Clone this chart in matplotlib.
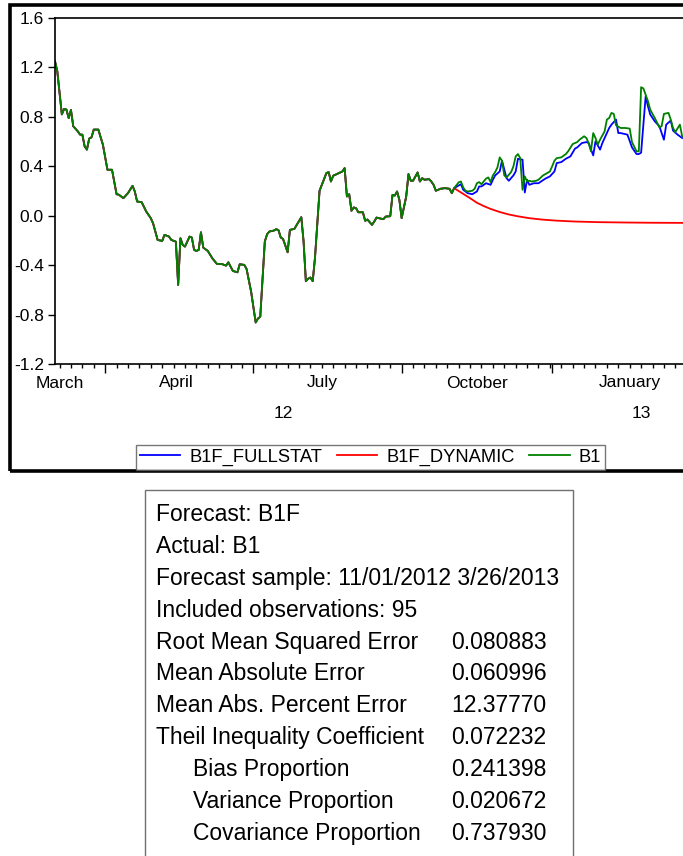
import numpy as np
import pandas as pd
import matplotlib
matplotlib.use('Agg')
import matplotlib.pyplot as plt
from matplotlib.patches import Rectangle
from matplotlib.lines import Line2D
import matplotlib.transforms as mtransforms

plt.rcParams['font.family'] = ['Liberation Sans', 'DejaVu Sans']
plt.rcParams['axes.unicode_minus'] = False

# ---------------- data ----------------
SAMPLE_START = '2012-03-01'
SAMPLE_END = '2013-03-26'
FORECAST_START = '2012-11-01'

# B1 (actual) : observation number (business days from SAMPLE_START) and value
b1_obs = [0, 1, 3, 4, 5, 6, 7, 8, 10, 11, 12, 13, 14, 15, 16, 17, 19, 21, 23, 25,
          27, 28, 30, 32, 34, 35, 36, 38, 40, 42, 43, 45, 47, 48, 50, 51, 53, 54, 55, 56,
          57, 59, 60, 61, 62, 63, 64, 65, 67, 69, 71, 73, 75, 76, 78, 80, 81, 83, 84, 86,
          88, 89, 90, 92, 93, 94, 96, 97, 98, 99, 100, 102, 103, 105, 106, 108, 109, 110, 111, 112,
          113, 114, 115, 116, 117, 119, 120, 121, 122, 123, 126, 127, 128, 129, 130, 131, 132, 133, 135, 136,
          137, 139, 140, 141, 142, 144, 145, 147, 148, 149, 150, 151, 152, 154, 155, 156, 157, 159, 160, 161,
          162, 164, 165, 166, 167, 169, 171, 173, 174, 175, 177, 178, 179, 180, 181, 183, 184, 185, 186, 187,
          189, 190, 191, 192, 193, 194, 195, 196, 197, 198, 200, 201, 202, 203, 204, 205, 206, 207, 208, 209,
          211, 212, 214, 215, 217, 218, 219, 220, 222, 224, 225, 227, 229, 230, 232, 233, 234, 235, 236, 237,
          238, 239, 241, 242, 243, 244, 245, 246, 248, 250, 252, 253, 255, 256, 257, 258, 260, 261, 262, 263,
          265, 266, 267, 269, 270, 271, 272, 274, 275]
b1_val = [1.25, 1.17, 0.82, 0.864, 0.859, 0.79, 0.856, 0.724, 0.683, 0.656, 0.656, 0.561, 0.535, 0.624, 0.634, 0.697, 0.697, 0.575, 0.372, 0.372,
          0.174, 0.17, 0.142, 0.183, 0.242, 0.196, 0.115, 0.11, 0.034, -0.02, -0.061, -0.196, -0.204, -0.155, -0.169, -0.196, -0.21, -0.56, -0.182, -0.236,
          -0.25, -0.169, -0.177, -0.277, -0.285, -0.277, -0.134, -0.258, -0.285, -0.345, -0.39, -0.39, -0.404, -0.377, -0.447, -0.458, -0.393, -0.398, -0.431, -0.615,
          -0.864, -0.832, -0.818, -0.209, -0.15, -0.128, -0.12, -0.109, -0.117, -0.177, -0.188, -0.296, -0.115, -0.106, -0.074, -0.012, -0.209, -0.53, -0.51, -0.50,
          -0.53, -0.34, -0.074, 0.202, 0.25, 0.345, 0.353, 0.277, 0.324, 0.332, 0.358, 0.385, 0.156, 0.174, 0.04, 0.067, 0.061, 0.028, 0.028, -0.041,
          -0.031, -0.074, -0.047, -0.015, -0.02, -0.028, -0.007, -0.004, 0.169, 0.163, 0.196, 0.128, -0.02, 0.156, 0.337, 0.283, 0.283, 0.35, 0.277, 0.304,
          0.291, 0.296, 0.277, 0.25, 0.202, 0.218, 0.223, 0.218, 0.182, 0.223, 0.27, 0.277, 0.229, 0.202, 0.196, 0.202, 0.218, 0.263, 0.272, 0.255,
          0.30, 0.31, 0.272, 0.326, 0.353, 0.391, 0.472, 0.445, 0.326, 0.31, 0.353, 0.399, 0.48, 0.499, 0.466, 0.21, 0.318, 0.277, 0.283, 0.277,
          0.283, 0.291, 0.326, 0.337, 0.358, 0.40, 0.445, 0.466, 0.472, 0.499, 0.521, 0.58, 0.596, 0.615, 0.643, 0.629, 0.588, 0.521, 0.669, 0.629,
          0.575, 0.615, 0.683, 0.778, 0.791, 0.832, 0.824, 0.732, 0.71, 0.71, 0.705, 0.596, 0.521, 0.521, 1.04, 1.03, 0.927, 0.859, 0.824, 0.791,
          0.716, 0.724, 0.824, 0.832, 0.778, 0.71, 0.677, 0.737, 0.643]

# B1F_FULLSTAT (static forecast) over the forecast sample
fs_obs = [175, 178, 179, 181, 183, 185, 186, 187, 189, 191, 192, 193, 195, 196, 198, 199, 201, 202, 203, 205,
          206, 207, 208, 210, 212, 215, 217, 219, 220, 222, 224, 226, 228, 229, 231, 233, 234, 236, 237, 239,
          240, 243, 244, 246, 247, 248, 251, 253, 255, 256, 257, 259, 260, 261, 263, 265, 267, 268, 270, 271,
          273, 275]
fs_val = [0.223, 0.255, 0.21, 0.182, 0.174, 0.196, 0.237, 0.237, 0.263, 0.25, 0.291, 0.326, 0.358, 0.445, 0.304, 0.283, 0.326, 0.358, 0.461, 0.453,
          0.188, 0.291, 0.25, 0.263, 0.263, 0.30, 0.318, 0.358, 0.426, 0.434, 0.461, 0.48, 0.543, 0.553, 0.588, 0.596, 0.588, 0.488, 0.602, 0.535,
          0.588, 0.71, 0.737, 0.778, 0.669, 0.669, 0.656, 0.553, 0.499, 0.499, 0.51, 0.967, 0.886, 0.819, 0.764, 0.724, 0.615, 0.737, 0.77, 0.689,
          0.656, 0.629]

# B1F_DYNAMIC (dynamic forecast) over the forecast sample
dyn_obs = [175, 177, 180, 182, 185, 188, 191, 195, 199, 203, 208, 214, 220, 228, 238, 250, 262, 275]
dyn_val = [0.223, 0.20, 0.165, 0.142, 0.105, 0.078, 0.055, 0.03, 0.01, -0.005, -0.02, -0.032, -0.04, -0.047, -0.052, -0.055, -0.057, -0.058]

y_ticks = [-1.2, -0.8, -0.4, 0.0, 0.4, 0.8, 1.2, 1.6]
quarter_labels = ['March', 'April', 'July', 'October', 'January']
quarter_label_dates = ['2012-03-05', '2012-05-15', '2012-08-13', '2012-11-15', '2013-02-18']
quarter_starts = ['2012-04-02', '2012-07-02', '2012-10-01', '2013-01-01']
year_labels = ['12', '13']
year_label_dates = ['2012-07-19', '2013-02-25']
series_names = ['B1F_FULLSTAT', 'B1F_DYNAMIC', 'B1']
series_colors = ['#0000ff', '#ff0000', '#008000']

stats_rows = [
    ('Forecast: B1F', '', 0),
    ('Actual: B1', '', 0),
    ('Forecast sample: 11/01/2012 3/26/2013', '', 0),
    ('Included observations: 95', '', 0),
    ('Root Mean Squared Error', '0.080883', 0),
    ('Mean Absolute Error', '0.060996', 0),
    ('Mean Abs. Percent Error', '12.37770', 0),
    ('Theil Inequality Coefficient', '0.072232', 0),
    ('Bias Proportion', '0.241398', 1),
    ('Variance Proportion', '0.020672', 1),
    ('Covariance Proportion', '0.737930', 1),
]

# ---------------- build ----------------
dates = pd.bdate_range(SAMPLE_START, SAMPLE_END)
def obs_of(d):
    return int(dates.searchsorted(pd.Timestamp(d)))

f0 = obs_of(FORECAST_START)
b1 = pd.Series(b1_val, index=b1_obs)
hist = b1[b1.index < f0]
blue = pd.concat([hist, pd.Series(fs_val, index=fs_obs)])
red = pd.concat([hist, pd.Series(dyn_val, index=dyn_obs)])

W, H = 683, 856
fig = plt.figure(figsize=(W / 100, H / 100), dpi=100)

def fx(px):
    return px / W
def fy(py):
    return 1 - py / H

left, top, right, bottom = 55, 18, 689, 364
ax = fig.add_axes([fx(left), fy(bottom), fx(right - left), (bottom - top) / H])

lw = 1.3
ax.plot(blue.index, blue.values, color=series_colors[0], lw=lw)
ax.plot(red.index, red.values, color=series_colors[1], lw=lw)
ax.plot(b1.index, b1.values, color=series_colors[2], lw=lw)

ax.set_xlim(0, len(dates) - 1)
ax.set_ylim(-1.2, 1.6)
ax.set_yticks(y_ticks)
ax.set_yticklabels(['%.1f' % v for v in y_ticks])
ax.tick_params(axis='y', direction='out', length=5, width=1, pad=3, labelsize=12.5)

ax.set_xticks([obs_of(d) for d in quarter_starts])
ax.set_xticklabels([])
mondays = [i for i, d in enumerate(dates) if d.weekday() == 0]
ax.set_xticks(mondays, minor=True)
ax.tick_params(axis='x', which='major', direction='out', length=6.5, width=1)
ax.tick_params(axis='x', which='minor', direction='out', length=3, width=1)
ax.tick_params(axis='y', which='minor', left=False)

for s in ['left', 'top', 'bottom', 'right']:
    ax.spines[s].set_linewidth(1.2)

trans = mtransforms.blended_transform_factory(ax.transData, ax.transAxes)
for lab, d in zip(quarter_labels, quarter_label_dates):
    ax.text(obs_of(d), -(383 - bottom) / (bottom - top), lab, transform=trans,
            ha='center', va='center', fontsize=12.5)
for lab, d in zip(year_labels, year_label_dates):
    ax.text(obs_of(d), -(413 - bottom) / (bottom - top), lab, transform=trans,
            ha='center', va='center', fontsize=12.5)

# outer thick frame
fig.patches.append(Rectangle((fx(10), fy(471)), fx(700 - 10), (471 - 5) / H,
                             transform=fig.transFigure, fill=False, lw=2.6,
                             edgecolor='black', zorder=5))

handles = [Line2D([], [], color=c, lw=1.3) for c in series_colors]
leg = fig.legend(handles, series_names, loc='center',
                 bbox_to_anchor=(fx(370.5), fy(457.5)), ncol=3,
                 frameon=True, fancybox=False, edgecolor='#555555',
                 fontsize=13.2, handlelength=2.2, handletextpad=0.5,
                 columnspacing=0.8, borderpad=0.22, borderaxespad=0)
leg.get_frame().set_linewidth(1)

# statistics table
fig.patches.append(Rectangle((fx(145), fy(880)), fx(573 - 145), (880 - 490) / H,
                             transform=fig.transFigure, fill=False, lw=1,
                             edgecolor='#707070'))
row0, step = 514.5, 31.9
for i, (lab, val, ind) in enumerate(stats_rows):
    yy = fy(row0 + i * step)
    fig.text(fx(193 if ind else 156.5), yy, lab, ha='left', va='center', fontsize=16.5)
    if val:
        fig.text(fx(451.5), yy, val, ha='left', va='center', fontsize=16.5)

fig.savefig('out.png', dpi=100)
